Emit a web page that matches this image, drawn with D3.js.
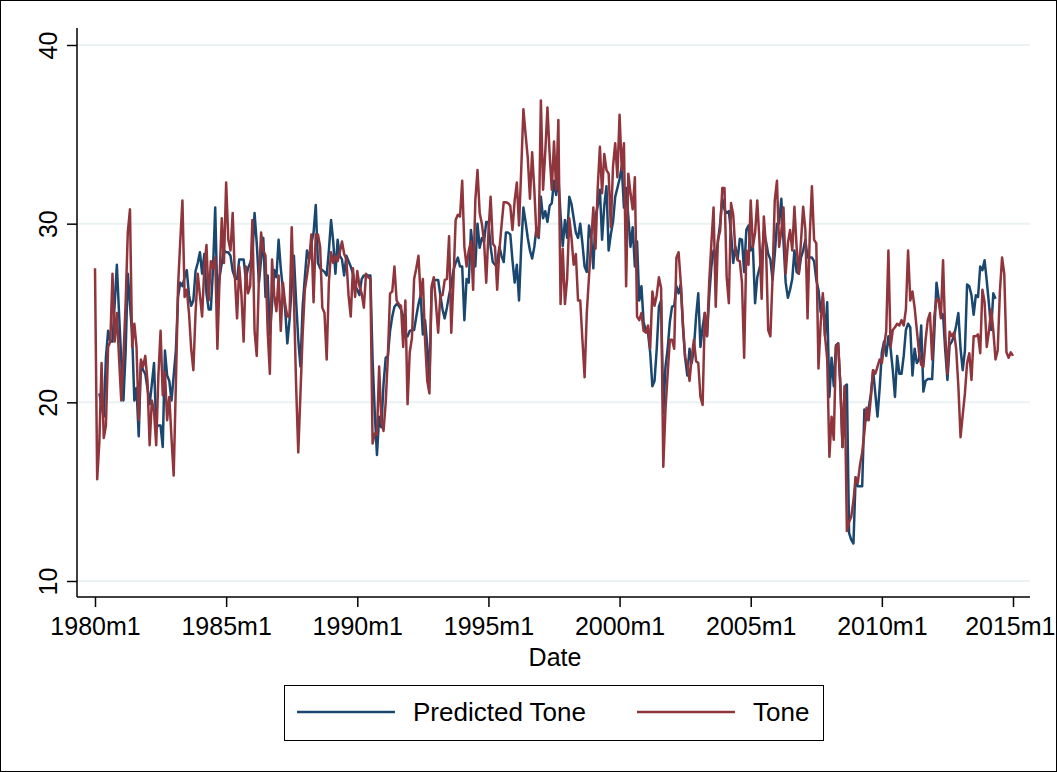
<!DOCTYPE html>
<html>
<head>
<meta charset="utf-8">
<script src="https://cdn.jsdelivr.net/npm/d3@7"></script>
<style>
  body { margin: 0; background: #fff; }
  svg { display: block; font-family: "Liberation Sans", Arial, Helvetica, sans-serif; }
</style>
</head>
<body>
<div id="chart"></div>
<script>
// monthly series, Tone starts 1980m1, Predicted Tone starts 1980m3
var toneStart = [1980, 1];
var predStart = [1980, 3];

var tone = [
  27.5, 15.7, 17.8, 22.2, 18.0, 18.7, 23.1, 23.4, 27.2, 23.4, 25.0, 22.5,
  20.1, 22.5, 25.5, 29.5, 30.8, 23.1, 24.4, 23.1, 19.0, 22.4, 22.0, 22.6,
  21.2, 17.6, 20.1, 19.5, 17.6, 21.5, 24.0, 20.4, 21.7, 19.0, 20.3, 18.0,
  15.9, 21.0, 26.5, 29.0, 31.3, 25.9, 26.3, 25.0, 23.0, 21.8, 25.0, 27.2,
  26.0, 24.8, 27.5, 28.8, 25.7, 27.9, 27.5, 28.1, 23.0, 27.0, 30.3, 27.8,
  32.3, 29.1, 28.5, 30.6, 27.0, 24.7, 27.6, 26.0, 23.4, 27.6, 26.1, 26.5,
  30.2, 24.0, 22.6, 27.0, 29.5, 28.5, 28.2, 24.0, 21.6, 28.0, 26.0, 25.1,
  27.1, 24.0, 26.7, 25.5, 24.8, 24.8, 29.8, 25.9, 21.0, 17.2, 20.5, 23.8,
  26.3, 27.1, 28.0, 29.4, 25.6, 29.4, 29.4, 28.7, 25.3, 25.0, 22.4, 26.7,
  28.4, 27.8, 28.2, 27.9, 28.4, 29.0, 28.3, 28.0, 26.0, 24.8, 27.5, 25.9,
  27.35, 26.5, 26.1, 25.3, 27.2, 27.0, 26.9, 17.7, 18.25, 18.2, 22.0, 19.0,
  18.4, 20.0, 22.6, 26.1, 26.2, 27.6, 25.7, 25.5, 25.4, 23.1, 25.7, 19.9,
  22.8, 23.6, 26.9, 27.5, 28.2, 25.9, 26.9, 23.5, 21.2, 20.5, 26.5, 27.0,
  25.5, 23.9, 26.0, 26.0, 26.85, 26.9, 29.3, 23.9, 26.8, 30.2, 30.5, 30.4,
  32.4, 28.7, 27.6, 28.5, 29.0, 26.3, 31.3, 33.0, 30.6, 30.0, 29.0, 26.7,
  29.5, 31.5, 28.9, 28.7, 26.3, 28.5, 29.9, 31.2, 31.2, 31.15, 31.0, 29.65,
  31.3, 32.3, 29.9, 33.0, 36.4, 35.0, 33.7, 31.4, 34.0, 31.9, 29.3, 29.3,
  36.9, 31.9, 34.0, 36.5, 33.9, 31.9, 34.6, 31.9, 35.8, 25.5, 28.6, 25.5,
  26.9, 30.3, 29.2, 27.7, 28.3, 25.7, 25.7, 23.5, 21.4, 25.0, 27.0, 29.0,
  30.9, 28.6, 32.0, 34.3, 31.7, 33.9, 33.0, 32.8, 29.8, 33.2, 34.5, 32.6,
  36.1, 33.0, 34.5, 26.5, 32.8, 31.7, 30.8, 32.6, 24.8, 24.6, 25.0, 24.0,
  23.9, 24.3, 23.0, 26.2, 25.4, 26.0, 27.0, 26.4, 16.4, 19.6, 21.6, 23.5,
  23.5, 23.0, 28.1, 28.4, 26.7, 24.4, 22.5, 22.2, 21.2, 22.5, 23.5, 22.3,
  22.2, 20.3, 19.85, 25.0, 23.7, 26.7, 28.9, 30.9, 25.35, 29.1, 29.6, 32.0,
  32.0, 27.0, 25.55, 31.15, 30.5, 28.5, 27.95, 27.9, 26.7, 22.5, 28.5, 27.7,
  31.3, 28.7, 29.5, 31.3, 29.0, 25.8, 30.4, 28.7, 24.05, 23.7, 27.0, 31.3,
  32.4, 28.7, 29.6, 30.9, 27.2, 28.9, 29.65, 28.5, 30.95, 28.7, 27.2, 29.0,
  30.95, 29.65, 24.7, 29.3, 32.1, 29.1, 28.9, 21.9, 24.4, 26.1, 23.7, 22.4,
  16.95, 19.2, 17.9, 23.1, 23.3, 21.0, 17.5, 20.9, 12.8, 13.3, 13.6, 14.5,
  15.8, 15.5, 16.5, 17.2, 18.3, 19.7, 19.0, 20.3, 21.8, 21.6, 22.0, 22.4,
  22.2, 23.1, 24.0, 28.5, 23.1, 24.05, 24.2, 24.4, 24.3, 24.6, 24.3, 25.2,
  28.5, 25.7, 26.2, 25.3, 24.05, 22.8, 22.1, 22.0, 23.5, 24.6, 25.0, 22.4,
  24.8, 25.8, 25.7, 24.7, 27.95, 23.8, 21.6, 23.95, 23.7, 23.9, 23.0, 20.9,
  18.05, 19.3, 20.5, 22.2, 22.75, 21.25, 23.7, 23.7, 23.8, 22.75, 26.3, 25.6,
  23.1, 24.0, 25.2, 24.0, 22.4, 22.9, 26.2, 28.1, 27.2, 22.8, 22.5, 22.8,
  22.6
];

var predicted = [
  20.5, 19.8, 19.2, 22.5, 24.0, 23.4, 23.4, 25.5, 27.7, 25.0,
  22.4, 20.1, 22.8, 27.2, 25.5, 23.8, 20.1, 20.8, 18.1, 22.2, 21.8, 21.6,
  20.8, 19.9, 21.0, 22.2, 18.6, 18.7, 18.7, 17.5, 22.9, 21.5, 21.2, 20.1,
  21.5, 22.9, 25.9, 26.7, 26.5, 27.0, 27.4, 26.0, 25.4, 25.7, 27.35, 27.8,
  28.4, 27.2, 28.3, 26.1, 25.2, 25.2, 27.5, 30.9, 25.7, 27.0, 27.8, 28.5,
  28.4, 28.4, 28.2, 27.35, 27.0, 26.9, 28.0, 28.0, 28.0, 26.9, 27.5, 27.8,
  28.2, 30.6, 28.9, 26.7, 28.0, 29.2, 25.9, 27.1, 23.8, 25.5, 27.4, 27.0,
  29.1, 27.5, 26.3, 25.2, 23.3, 24.6, 26.5, 28.2, 25.7, 23.5, 22.0, 25.35,
  27.0, 28.5, 28.0, 28.9, 29.5, 31.05, 27.8, 27.5, 27.4, 27.3, 27.1, 28.5,
  30.2, 29.0, 27.2, 29.1, 28.2, 28.0, 27.1, 28.2, 27.9, 27.6, 27.2, 26.5,
  26.3, 26.0, 26.9, 27.1, 27.1, 27.1, 27.1, 22.4, 19.4, 17.05, 19.2, 18.6,
  21.0, 22.5, 22.6, 24.0, 24.8, 25.35, 25.5, 25.4, 25.2, 24.8, 23.8, 23.7,
  24.0, 24.05, 24.05, 24.8, 25.5, 26.0, 23.8, 24.6, 23.2, 21.25, 26.3, 26.8,
  26.85, 26.85, 26.0, 25.2, 24.7, 25.3, 26.0, 26.6, 27.4, 27.8, 28.1, 27.6,
  27.6, 24.6, 26.9, 26.7, 29.65, 28.5, 27.6, 30.0, 28.65, 29.2, 29.0, 30.1,
  30.1, 28.7, 27.85, 27.7, 27.8, 28.7, 28.2, 27.85, 29.5, 29.5, 29.4, 27.95,
  26.7, 27.7, 25.7, 28.7, 30.9, 30.1, 29.2, 28.5, 28.05, 28.7, 29.8, 29.2,
  31.5, 30.3, 30.7, 30.1, 31.0, 31.15, 32.4, 31.6, 32.6, 30.5, 28.75, 30.2,
  29.2, 31.5, 31.1, 30.3, 29.5, 29.2, 30.0, 28.9, 27.6, 27.3, 29.9, 29.2,
  27.5, 30.4, 31.0, 31.9, 29.1, 31.0, 32.1, 28.5, 29.4, 30.1, 31.5, 32.0,
  32.5, 33.2, 30.9, 32.0, 30.4, 28.7, 29.8, 27.6, 29.0, 25.7, 26.5, 24.5,
  24.0, 23.9, 22.8, 20.9, 21.2, 23.0, 25.35, 25.7, 19.4, 22.0, 23.0, 24.5,
  25.35, 25.4, 26.5, 26.1, 26.6, 24.2, 22.5, 21.5, 23.0, 22.2, 23.0, 24.8,
  26.1, 23.1, 24.2, 25.0, 23.7, 25.9, 27.6, 28.5, 28.1, 29.0, 30.0, 31.4,
  30.8, 30.6, 30.7, 29.5, 27.8, 28.7, 28.0, 29.15, 29.1, 27.3, 29.65, 29.9,
  28.5, 28.7, 25.55, 27.0, 27.5, 28.0, 29.5, 29.0, 28.3, 28.0, 26.85, 28.3,
  30.0, 30.0, 31.4, 29.0, 26.7, 25.85, 26.3, 26.9, 28.5, 27.3, 27.2, 28.1,
  28.5, 29.1, 28.1, 28.1, 28.1, 27.9, 26.85, 26.3, 25.05, 25.9, 23.7, 25.6,
  20.3, 22.5, 20.9, 23.2, 23.3, 21.0, 17.5, 20.9, 21.0, 12.7, 12.3, 12.1,
  15.8, 15.3, 15.3, 15.3, 19.6, 19.0, 19.7, 20.5, 21.8, 20.5, 19.2, 20.8,
  22.8, 23.4, 22.6, 23.7, 23.0, 21.8, 20.3, 22.6, 21.6, 21.6, 22.6, 24.05,
  24.4, 24.2, 21.5, 23.0, 22.2, 22.4, 24.3, 20.6, 21.2, 21.3, 21.3, 21.3,
  23.9, 26.7, 25.8, 25.0, 24.9, 22.9, 21.25, 23.2, 23.4, 23.7, 24.3, 25.0,
  23.0, 21.8, 22.9, 26.6, 26.5, 26.0, 24.9, 26.0, 25.9, 27.6, 27.4, 27.95,
  26.8, 25.5, 24.05, 26.1, 25.8
];

var yTicks = [10, 20, 30, 40];
var xTickYears = [1980, 1985, 1990, 1995, 2000, 2005, 2010, 2015];
var seriesNames = ["Predicted Tone", "Tone"];
var seriesColors = ["#1a476f", "#90353b"];

var W = 1057, H = 772;

var svg = d3.select("#chart").append("svg")
  .attr("width", W)
  .attr("height", H);

svg.append("rect")
  .attr("x", 0.5).attr("y", 0.5)
  .attr("width", W - 1).attr("height", H - 1)
  .attr("fill", "#fff")
  .attr("stroke", "#000")
  .attr("stroke-width", 1);

function monthIndex(y, m) { return (y - 1980) * 12 + (m - 1); }

var x = d3.scaleLinear().domain([0, 420]).range([95, 1013]);
var y = d3.scaleLinear().domain([10, 40]).range([581, 45]);

var plotLeft = 77, plotRight = 1030, plotTop = 28, plotBottom = 597;

// grid
svg.append("g").selectAll("line")
  .data(yTicks)
  .enter().append("line")
  .attr("x1", plotLeft).attr("x2", plotRight)
  .attr("y1", function (d) { return y(d); })
  .attr("y2", function (d) { return y(d); })
  .attr("stroke", "#eaf2f3")
  .attr("stroke-width", 2);

// y axis
var yAxis = d3.axisLeft(y).tickValues(yTicks).tickSize(10).tickPadding(0).tickFormat(d3.format("d"));
var gy = svg.append("g").attr("transform", "translate(" + plotLeft + ",0)").call(yAxis);
gy.select(".domain").attr("d", "M0," + plotTop + "V" + plotBottom).attr("stroke", "#000").attr("stroke-width", 1.5);
gy.selectAll(".tick line").attr("stroke", "#000").attr("stroke-width", 1.5);
gy.selectAll(".tick text")
  .attr("x", null).attr("dy", null)
  .attr("transform", "translate(-20,0) rotate(-90)")
  .attr("text-anchor", "middle")
  .style("font-size", "25px")
  .attr("fill", "#000");

// x axis
var xAxis = d3.axisBottom(x)
  .tickValues(xTickYears.map(function (yr) { return monthIndex(yr, 1); }))
  .tickSize(10).tickPadding(10)
  .tickFormat(function (d) { return (1980 + d / 12) + "m1"; });
var gx = svg.append("g").attr("transform", "translate(0," + plotBottom + ")").call(xAxis);
gx.select(".domain").attr("d", "M" + plotLeft + ",0H" + plotRight).attr("stroke", "#000").attr("stroke-width", 1.5);
gx.selectAll(".tick line").attr("stroke", "#000").attr("stroke-width", 1.5);
gx.selectAll(".tick text")
  .attr("dy", "0.71em")
  .style("font-size", "25px")
  .attr("fill", "#000");
// last label sits against the frame in the original; keep it inside
gx.selectAll(".tick text").filter(function (d) { return d === 420; })
  .attr("text-anchor", "end")
  .attr("dx", 42);

svg.append("text")
  .attr("x", 555).attr("y", 666)
  .attr("text-anchor", "middle")
  .style("font-size", "25px")
  .text("Date");

// lines
var line = d3.line()
  .x(function (d) { return x(d.t); })
  .y(function (d) { return y(d.v); });

var t0p = monthIndex(predStart[0], predStart[1]);
var t0t = monthIndex(toneStart[0], toneStart[1]);
var predData = predicted.map(function (v, i) { return { t: t0p + i, v: v }; });
var toneData = tone.map(function (v, i) { return { t: t0t + i, v: v }; });

svg.append("path")
  .datum(predData)
  .attr("d", line)
  .attr("fill", "none")
  .attr("stroke", seriesColors[0])
  .attr("stroke-width", 2.5)
  .attr("stroke-linejoin", "round");

svg.append("path")
  .datum(toneData)
  .attr("d", line)
  .attr("fill", "none")
  .attr("stroke", seriesColors[1])
  .attr("stroke-width", 2.5)
  .attr("stroke-linejoin", "round");

// legend
var lg = svg.append("g");
lg.append("rect")
  .attr("x", 284.5).attr("y", 685.5)
  .attr("width", 539).attr("height", 55)
  .attr("fill", "#fff")
  .attr("stroke", "#000")
  .attr("stroke-width", 1);

var legendX = [297, 637];
seriesNames.forEach(function (name, i) {
  lg.append("line")
    .attr("x1", legendX[i]).attr("x2", legendX[i] + 98)
    .attr("y1", 712).attr("y2", 712)
    .attr("stroke", seriesColors[i])
    .attr("stroke-width", 2.5);
  lg.append("text")
    .attr("x", legendX[i] + 116).attr("y", 721)
    .style("font-size", "26px")
    .text(name);
});
</script>
</body>
</html>
